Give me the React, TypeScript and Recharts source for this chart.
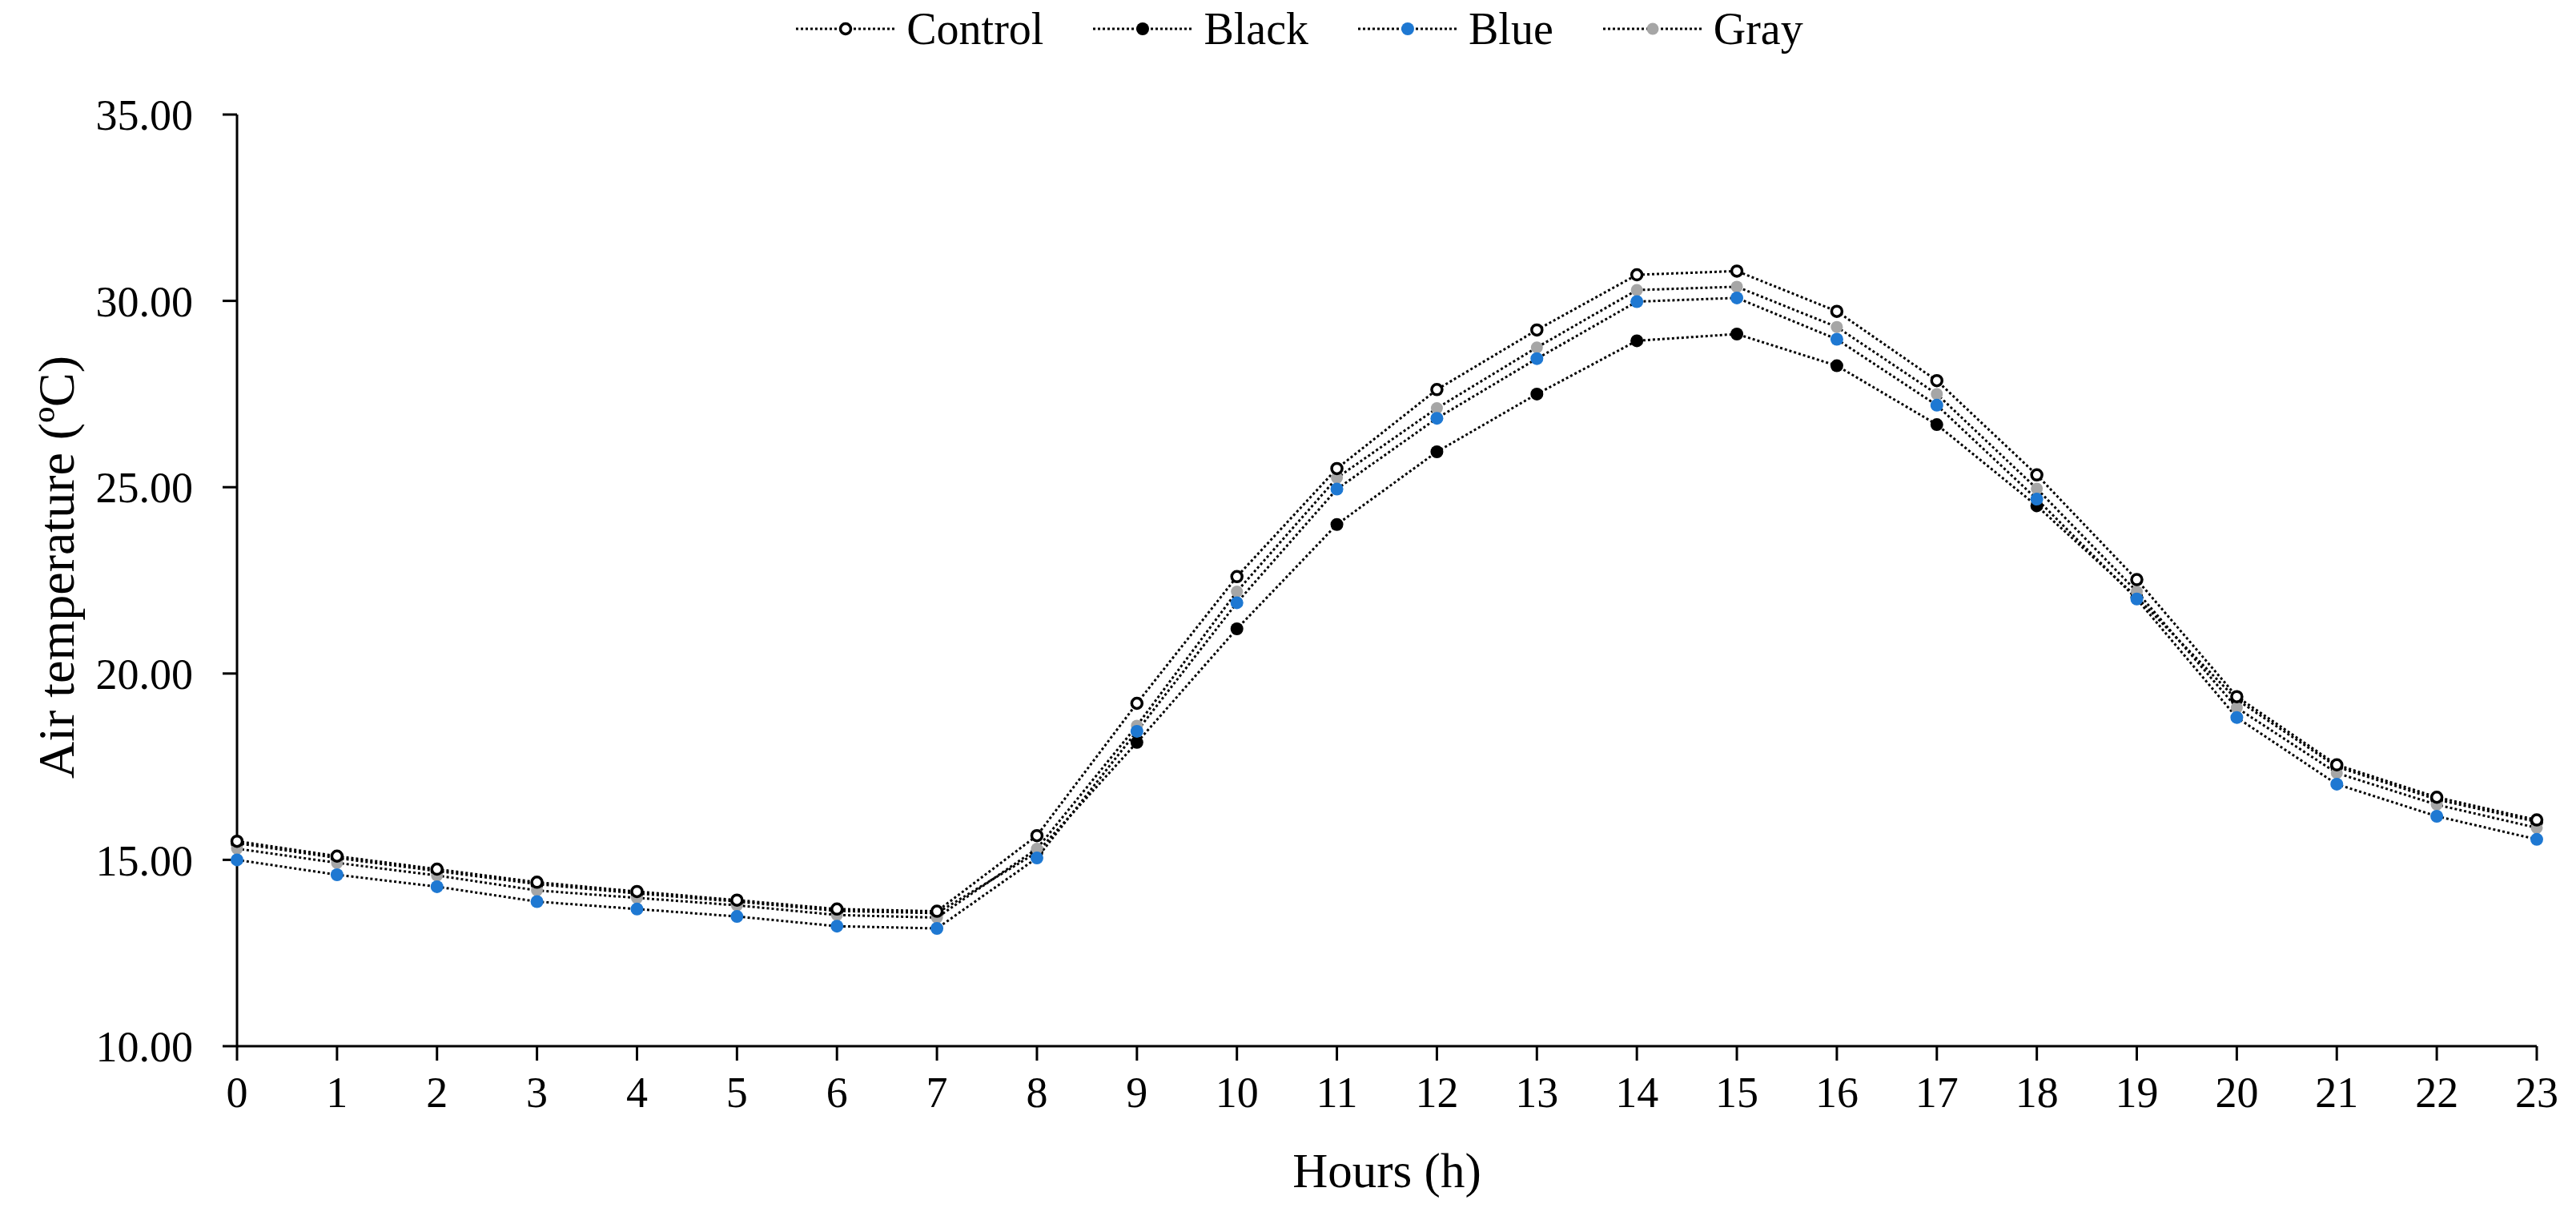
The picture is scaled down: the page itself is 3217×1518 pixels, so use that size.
import React from 'react';
import { LineChart, Line, XAxis, YAxis, Legend, Label } from 'recharts';

const FONT = '"Liberation Serif", "Times New Roman", serif';

const HOURS = [0, 1, 2, 3, 4, 5, 6, 7, 8, 9, 10, 11, 12, 13, 14, 15, 16, 17, 18, 19, 20, 21, 22, 23];

const CONTROL = [15.5, 15.1, 14.75, 14.4, 14.15, 13.92, 13.68, 13.62, 15.65, 19.2, 22.6, 25.5, 27.62, 29.22, 30.7, 30.8, 29.72, 27.86, 25.33, 22.52, 19.38, 17.55, 16.68, 16.07];
const BLACK = [15.45, 15.05, 14.7, 14.35, 14.1, 13.88, 13.63, 13.57, 15.2, 18.15, 21.2, 24.0, 25.95, 27.5, 28.93, 29.11, 28.26, 26.68, 24.5, 22.05, 19.3, 17.5, 16.62, 16.02];
const GRAY = [15.3, 14.92, 14.58, 14.18, 13.98, 13.78, 13.52, 13.45, 15.3, 18.6, 22.2, 25.25, 27.12, 28.75, 30.29, 30.38, 29.3, 27.5, 24.96, 22.2, 19.08, 17.33, 16.48, 15.86];
const BLUE = [15.0, 14.6, 14.28, 13.88, 13.68, 13.48, 13.22, 13.16, 15.05, 18.45, 21.9, 24.95, 26.85, 28.45, 29.98, 30.08, 28.97, 27.2, 24.68, 22.0, 18.82, 17.03, 16.17, 15.55];

const Y_TICKS = [10, 15, 20, 25, 30, 35];

// draw order (last on top)
const SERIES = [
  { key: 'black', name: 'Black', fill: '#000000', stroke: 'none', sw: 0, r: 8 },
  { key: 'gray', name: 'Gray', fill: '#a6a6a6', stroke: 'none', sw: 0, r: 7.5 },
  { key: 'blue', name: 'Blue', fill: '#1e78d2', stroke: 'none', sw: 0, r: 8 },
  { key: 'control', name: 'Control', fill: '#ffffff', stroke: '#000000', sw: 3.5, r: 6.5 },
];
const LEGEND_ORDER = ['control', 'black', 'blue', 'gray'];

const data = HOURS.map((h, i) => ({
  hour: h,
  control: CONTROL[i],
  black: BLACK[i],
  gray: GRAY[i],
  blue: BLUE[i],
}));

function LegendContent() {
  return (
    <div
      style={{
        display: 'flex',
        justifyContent: 'center',
        alignItems: 'center',
        gap: 62,
        fontFamily: FONT,
        fontSize: 56,
        lineHeight: 1,
        color: '#000',
        paddingLeft: 30,
      }}
    >
      {LEGEND_ORDER.map((k) => {
        const s = SERIES.find((x) => x.key === k)!;
        return (
          <div key={k} style={{ display: 'flex', alignItems: 'center' }}>
            <svg width={124} height={30}>
              <line x1={0} y1={15} x2={124} y2={15} stroke='#000' strokeWidth={3} strokeDasharray='3 3' />
              <circle cx={62} cy={15} r={s.r} fill={s.fill} stroke={s.stroke} strokeWidth={s.sw} />
            </svg>
            <span style={{ marginLeft: 14 }}>{s.name}</span>
          </div>
        );
      })}
    </div>
  );
}

export default function App() {
  return (
    <LineChart
      width={3200}
      height={1500}
      data={data}
      margin={{ top: 135, right: 40, bottom: 82, left: 88 }}
    >
      <XAxis
        dataKey='hour'
        type='number'
        domain={[0, 23]}
        ticks={HOURS}
        interval={0}
        height={120}
        tickSize={18}
        tickMargin={20}
        axisLine={{ stroke: '#000', strokeWidth: 3 }}
        tickLine={{ stroke: '#000', strokeWidth: 3 }}
        tick={{ fill: '#000', fontSize: 54, fontFamily: FONT }}
      >
        <Label
          content={() => (
            <text x={1724} y={1453} textAnchor='middle' dominantBaseline='central' fontSize={61} fontFamily={FONT} fill='#000'>
              Hours (h)
            </text>
          )}
        />
      </XAxis>
      <YAxis
        type='number'
        domain={[10, 35]}
        ticks={Y_TICKS}
        interval={0}
        width={200}
        tickSize={18}
        tickMargin={37}
        tickFormatter={(v: number) => v.toFixed(2)}
        axisLine={{ stroke: '#000', strokeWidth: 3 }}
        tickLine={{ stroke: '#000', strokeWidth: 3 }}
        tick={{ fill: '#000', fontSize: 54, fontFamily: FONT }}
      >
        <Label
          content={() => (
            <text
              x={62}
              y={700}
              transform='rotate(-90 62 700)'
              textAnchor='middle'
              dominantBaseline='central'
              fontSize={64}
              fontFamily={FONT}
              fill='#000'
            >
              Air temperature (ºC)
            </text>
          )}
        />
      </YAxis>
      <Legend
        verticalAlign='middle'
        align='center'
        content={<LegendContent />}
        wrapperStyle={{ top: 0, left: 0, width: 3200 }}
      />
      {SERIES.map((s) => (
        <Line
          key={s.key}
          dataKey={s.key}
          name={s.name}
          type='linear'
          stroke='#000'
          strokeWidth={3}
          strokeDasharray='3 3'
          dot={{ r: s.r, fill: s.fill, stroke: s.stroke, strokeWidth: s.sw, strokeDasharray: '' }}
          activeDot={false}
          isAnimationActive={false}
        />
      ))}
    </LineChart>
  );
}
